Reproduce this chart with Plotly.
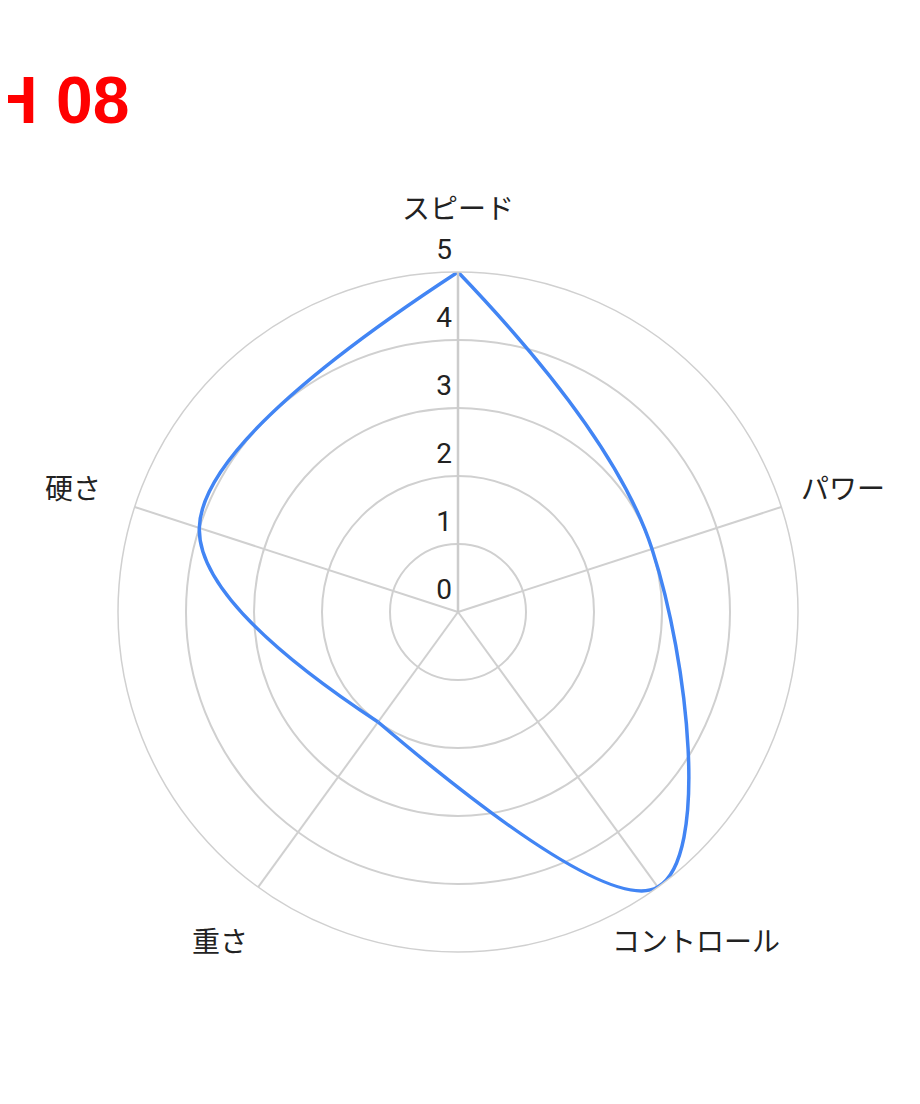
import math
import plotly.graph_objects as go

# レーダーチャートの値
categories = ["スピード", "パワー", "コントロール", "重さ", "硬さ"]
values = [5, 3, 5, 2, 4]
radial_ticks = [0, 1, 2, 3, 4, 5]
title_text = "H 08"

W, H = 920, 1104
cx, cy, rad = 450, 604, 340  # 図の中の中心と半径 (px)
label_rad = 405

blue = "#4285F4"
grid = "#d0d0d0"

fig = go.Figure()

# データの線 (重さで区切って角を残す)
cut = 3
parts = [
    (values[:cut + 1], categories[:cut + 1]),
    (values[cut:] + values[:1], categories[cut:] + categories[:1]),
]
for r, th in parts:
    fig.add_trace(go.Scatterpolar(
        r=r, theta=th, mode="lines",
        line=dict(color=blue, width=3.5, shape="spline", smoothing=1.1),
        hoverinfo="skip", showlegend=False))

# 目盛りの数字
fig.add_trace(go.Scatterpolar(
    r=radial_ticks, theta=[categories[0]] * len(radial_ticks),
    text=[str(t) for t in radial_ticks],
    mode="markers+text", textposition="top left", cliponaxis=False,
    marker=dict(size=8, color="rgba(0,0,0,0)"),
    textfont=dict(family="Roboto", size=28, color="#222222"),
    hoverinfo="skip", showlegend=False))

# 項目名
annotations = []
for i, name in enumerate(categories):
    ang = math.radians(90 - i * 360 / len(categories))
    px = cx + label_rad * math.cos(ang)
    py = cy - label_rad * math.sin(ang)
    annotations.append(dict(
        text=name, xref="paper", yref="paper",
        x=px / W, y=1 - py / H, xanchor="center", yanchor="middle",
        showarrow=False,
        font=dict(family="Noto Sans CJK JP", size=28, color="#222222")))

annotations.append(dict(
    text=f"<b>{title_text}</b>", xref="paper", yref="paper",
    x=123 / W, y=1 - 92 / H, xanchor="right", yanchor="middle",
    showarrow=False,
    font=dict(family="Liberation Sans", size=66, color="#ff0000")))

fig.update_layout(
    width=W, height=H,
    margin=dict(l=0, r=0, t=0, b=0),
    paper_bgcolor="white",
    showlegend=False,
    polar=dict(
        domain=dict(x=[(cx - rad) / W, (cx + rad) / W],
                    y=[(H - cy - rad) / H, (H - cy + rad) / H]),
        bgcolor="white",
        radialaxis=dict(range=[0, 5], dtick=1, angle=90, showticklabels=False,
                        ticks="", gridcolor=grid, gridwidth=1.5,
                        showline=True, linecolor="#cccccc", linewidth=2.5),
        angularaxis=dict(categoryorder="array", categoryarray=categories,
                         direction="clockwise", rotation=90,
                         showticklabels=False, ticks="",
                         gridcolor=grid, gridwidth=1.5,
                         showline=True, linecolor=grid, linewidth=1.5),
    ),
    annotations=annotations,
)

fig.write_html("out.html")
